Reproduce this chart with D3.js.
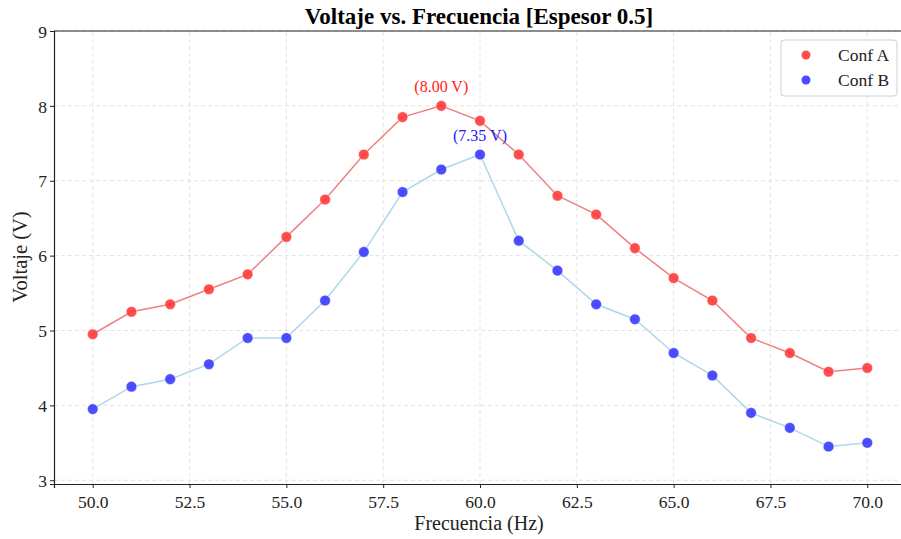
<!DOCTYPE html>
<html>
<head>
<meta charset="utf-8">
<script src="https://cdn.jsdelivr.net/npm/d3@7"></script>
<style>
  html, body { margin: 0; padding: 0; background: #fff; }
  svg { display: block; font-family: "Liberation Serif", "Times New Roman", serif; }
</style>
</head>
<body>
<svg id="chart" width="901" height="539"></svg>
<script>
// Frequency sweep (Hz) and measured voltages for both configurations
const frequencies = [50, 51, 52, 53, 54, 55, 56, 57, 58, 59, 60, 61, 62, 63, 64, 65, 66, 67, 68, 69, 70];
const confA = [4.95, 5.25, 5.35, 5.55, 5.75, 6.25, 6.75, 7.35, 7.85, 8.00, 7.80, 7.35, 6.80, 6.55, 6.10, 5.70, 5.40, 4.90, 4.70, 4.45, 4.50];
const confB = [3.95, 4.25, 4.35, 4.55, 4.90, 4.90, 5.40, 6.05, 6.85, 7.15, 7.35, 6.20, 5.80, 5.35, 5.15, 4.70, 4.40, 3.90, 3.70, 3.45, 3.50];
const xTicks = [50, 52.5, 55, 57.5, 60, 62.5, 65, 67.5, 70];
const yTicks = [3, 4, 5, 6, 7, 8, 9];

const series = [
  { name: "Conf A", values: confA, point: "#ff3b3b", line: "#f08080" },
  { name: "Conf B", values: confB, point: "#3a3aff", line: "#add8e6" }
];

const svg = d3.select("#chart");
const margin = { left: 54, top: 31, right: -5, bottom: 55 };
const W = 901, H = 539;

const x = d3.scaleLinear().domain([49, 71]).range([margin.left, W - margin.right]);
const y = d3.scaleLinear().domain([2.95, 9]).range([H - margin.bottom, margin.top]);

// Dashed grid
const grid = svg.append("g");
grid.selectAll(".gx").data(xTicks).join("line")
  .attr("x1", d => x(d)).attr("x2", d => x(d))
  .attr("y1", y.range()[0]).attr("y2", y.range()[1])
  .attr("stroke", "#e3e3e3").attr("stroke-width", 1).attr("stroke-dasharray", "4,3");
grid.selectAll(".gy").data(yTicks).join("line")
  .attr("x1", x.range()[0]).attr("x2", x.range()[1])
  .attr("y1", d => y(d)).attr("y2", d => y(d))
  .attr("stroke", "#e3e3e3").attr("stroke-width", 1).attr("stroke-dasharray", "4,3");

// Lines and points
const line = d3.line().x((d, i) => x(frequencies[i])).y(d => y(d));
series.forEach(s => {
  svg.append("path").datum(s.values)
    .attr("d", line).attr("fill", "none")
    .attr("stroke", s.line).attr("stroke-width", 1.5);
});
series.forEach(s => {
  svg.append("g").selectAll("circle").data(s.values).join("circle")
    .attr("cx", (d, i) => x(frequencies[i])).attr("cy", d => y(d))
    .attr("r", 5.3).attr("fill", s.point).attr("fill-opacity", 0.9)
    .attr("stroke", "#ffffff").attr("stroke-opacity", 0.5).attr("stroke-width", 0.8);
});

// Peak annotations
series.forEach((s, k) => {
  const iMax = d3.maxIndex(s.values);
  svg.append("text")
    .attr("x", x(frequencies[iMax])).attr("y", y(s.values[iMax]) - 14)
    .attr("text-anchor", "middle").attr("font-size", 16)
    .attr("fill", k === 0 ? "#ff1a1a" : "#1a1aff")
    .text(`(${s.values[iMax].toFixed(2)} V)`);
});

// Axes
const xAxis = svg.append("g").attr("transform", `translate(0,${y.range()[0]})`)
  .call(d3.axisBottom(x).tickValues(xTicks).tickFormat(d3.format(".1f")).tickSizeOuter(0).tickSize(4));
const yAxis = svg.append("g").attr("transform", `translate(${margin.left},0)`)
  .call(d3.axisLeft(y).tickValues(yTicks).tickFormat(d3.format("d")).tickSizeOuter(0).tickSize(4));
[xAxis, yAxis].forEach(a => {
  a.attr("font-size", 17.5).attr("font-family", "Liberation Serif");
  a.selectAll("text").attr("fill", "#222");
  a.select(".domain").attr("stroke", "#222").attr("stroke-width", 1.2);
  a.selectAll(".tick line").attr("stroke", "#222");
});
xAxis.selectAll("text").attr("dy", "0.95em");
yAxis.selectAll("text").attr("dy", "0.35em");
// Top frame line
svg.append("line").attr("x1", margin.left).attr("x2", W)
  .attr("y1", margin.top).attr("y2", margin.top).attr("stroke", "#222").attr("stroke-width", 1.2);

// Titles
svg.append("text").attr("x", 479).attr("y", 24).attr("text-anchor", "middle")
  .attr("font-size", 23).attr("font-weight", "bold").text("Voltaje vs. Frecuencia [Espesor 0.5]");
svg.append("text").attr("x", 479).attr("y", 530).attr("text-anchor", "middle")
  .attr("font-size", 20).attr("fill", "#222").text("Frecuencia (Hz)");
svg.append("text").attr("transform", "translate(27,257) rotate(-90)").attr("text-anchor", "middle")
  .attr("font-size", 20.5).attr("fill", "#222").text("Voltaje (V)");

// Legend
const lg = svg.append("g").attr("transform", "translate(781,40)");
lg.append("rect").attr("width", 116).attr("height", 56).attr("rx", 3)
  .attr("fill", "#fff").attr("fill-opacity", 0.85).attr("stroke", "#d0d0d0");
series.forEach((s, i) => {
  lg.append("circle").attr("cx", 25).attr("cy", 15 + i * 25).attr("r", 4.5)
    .attr("fill", s.point).attr("fill-opacity", 0.9);
  lg.append("text").attr("x", 57).attr("y", 21 + i * 25)
    .attr("font-size", 17.5).attr("fill", "#222").text(s.name);
});
</script>
</body>
</html>
